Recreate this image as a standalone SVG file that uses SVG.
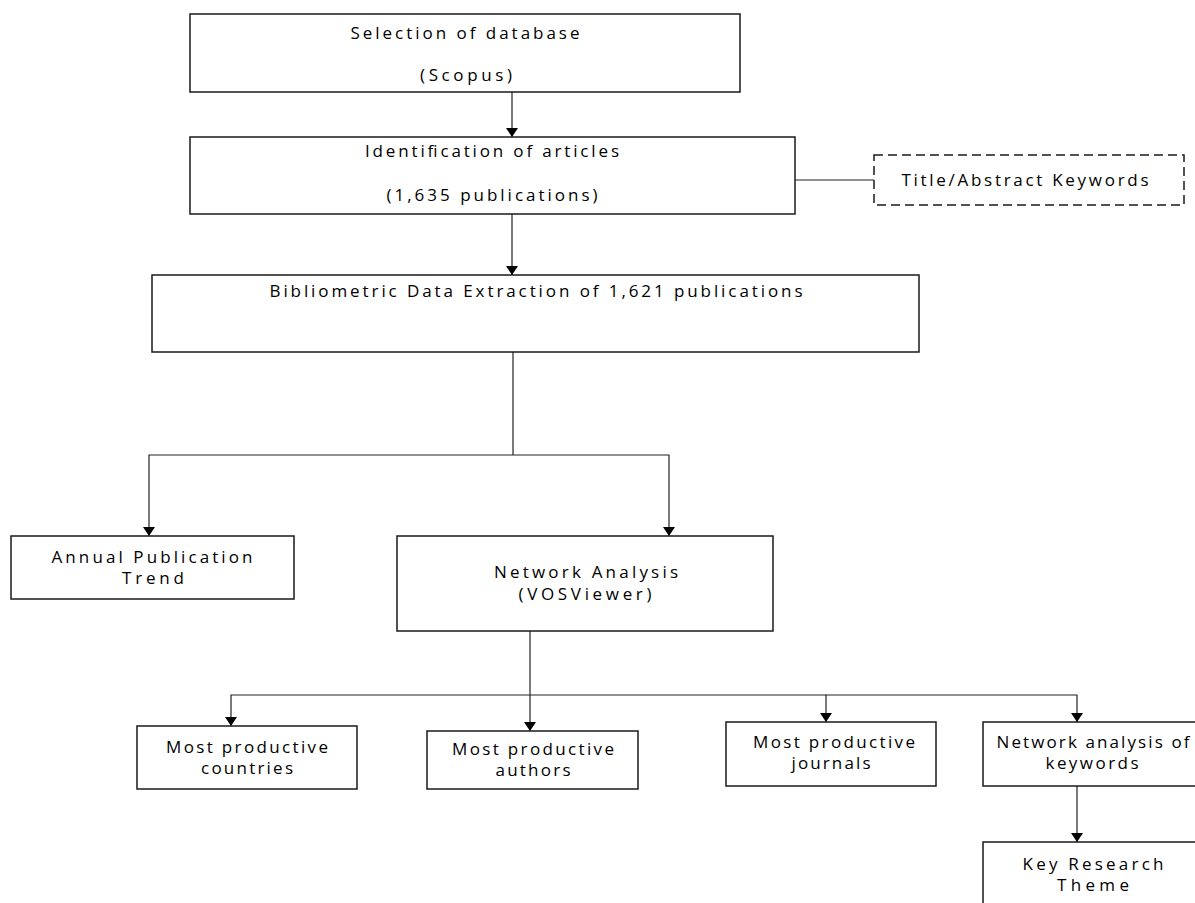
<svg xmlns="http://www.w3.org/2000/svg" width="1195" height="903" viewBox="0 0 1195 903">
<style>
.box{fill:#fff;stroke:#1a1a1a;stroke-width:1.5}
.dash{fill:#fff;stroke:#1a1a1a;stroke-width:1.5;stroke-dasharray:9 5}
.c{fill:none;stroke:#222;stroke-width:1.2}
text{font-family:"Open Sans","Liberation Sans",sans-serif;font-size:17px;fill:#000;text-anchor:middle}
</style>
<defs>
<marker id="ah" viewBox="0 0 9 12" refX="9" refY="6" markerWidth="9" markerHeight="12" markerUnits="userSpaceOnUse" orient="auto">
<path d="M0,0 L9,6 L0,12 z" fill="#000"/>
</marker>
</defs>
<rect width="1195" height="903" fill="#fff"/>
<g id="connectors">
<path class="c" d="M512,92 V137" marker-end="url(#ah)"/>
<path class="c" d="M795,180 H874"/>
<path class="c" d="M512,214 V275" marker-end="url(#ah)"/>
<path class="c" d="M513,352 V455"/>
<path class="c" d="M513,455 H149 V536" marker-end="url(#ah)"/>
<path class="c" d="M513,455 H669 V536" marker-end="url(#ah)"/>
<path class="c" d="M530,631 V695"/>
<path class="c" d="M530,695 H231 V726" marker-end="url(#ah)"/>
<path class="c" d="M530,695 V731" marker-end="url(#ah)"/>
<path class="c" d="M530,695 H826 V722" marker-end="url(#ah)"/>
<path class="c" d="M826,695 H1077 V722" marker-end="url(#ah)"/>
<path class="c" d="M1077,786 V842" marker-end="url(#ah)"/>
</g>
<g id="n-selection">
<rect class="box" x="190" y="14" width="550" height="78"/>
<text x="465" y="39" textLength="229" lengthAdjust="spacing">Selection of database</text>
<text x="466" y="81" textLength="92" lengthAdjust="spacing">(Scopus)</text>
</g>
<g id="n-identification">
<rect class="box" x="190" y="137" width="605" height="77"/>
<text x="492" y="157" textLength="254" lengthAdjust="spacing">Identification of articles</text>
<text x="492" y="201" textLength="211" lengthAdjust="spacing">(1,635 publications)</text>
</g>
<g id="n-keywords-filter">
<rect class="dash" x="874" y="155" width="310" height="50"/>
<text x="1025" y="186" textLength="247" lengthAdjust="spacing">Title/Abstract Keywords</text>
</g>
<g id="n-extraction">
<rect class="box" x="152" y="275" width="767" height="77"/>
<text x="536" y="297" textLength="533" lengthAdjust="spacing">Bibliometric Data Extraction of 1,621 publications</text>
</g>
<g id="n-annual">
<rect class="box" x="11" y="536" width="283" height="63"/>
<text x="152" y="563" textLength="201" lengthAdjust="spacing">Annual Publication</text>
<text x="153" y="584" textLength="62" lengthAdjust="spacing">Trend</text>
</g>
<g id="n-network">
<rect class="box" x="397" y="536" width="376" height="95"/>
<text x="586" y="578" textLength="184" lengthAdjust="spacing">Network Analysis</text>
<text x="585" y="600" textLength="133" lengthAdjust="spacing">(VOSViewer)</text>
</g>
<g id="n-countries">
<rect class="box" x="137" y="726" width="220" height="63"/>
<text x="247" y="753" textLength="162" lengthAdjust="spacing">Most productive</text>
<text x="247" y="774" textLength="92" lengthAdjust="spacing">countries</text>
</g>
<g id="n-authors">
<rect class="box" x="427" y="731" width="211" height="58"/>
<text x="533" y="755" textLength="162" lengthAdjust="spacing">Most productive</text>
<text x="533" y="776" textLength="75" lengthAdjust="spacing">authors</text>
</g>
<g id="n-journals">
<rect class="box" x="726" y="722" width="210" height="64"/>
<text x="834" y="748" textLength="162" lengthAdjust="spacing">Most productive</text>
<text x="831" y="769" textLength="79" lengthAdjust="spacing">journals</text>
</g>
<g id="n-keywords">
<rect class="box" x="983" y="722" width="220" height="64"/>
<text x="1093" y="748" textLength="193" lengthAdjust="spacing">Network analysis of</text>
<text x="1092" y="769" textLength="93" lengthAdjust="spacing">keywords</text>
</g>
<g id="n-theme">
<rect class="box" x="983" y="842" width="220" height="70"/>
<text x="1093" y="870" textLength="141" lengthAdjust="spacing">Key Research</text>
<text x="1093" y="891" textLength="72" lengthAdjust="spacing">Theme</text>
</g>
</svg>
